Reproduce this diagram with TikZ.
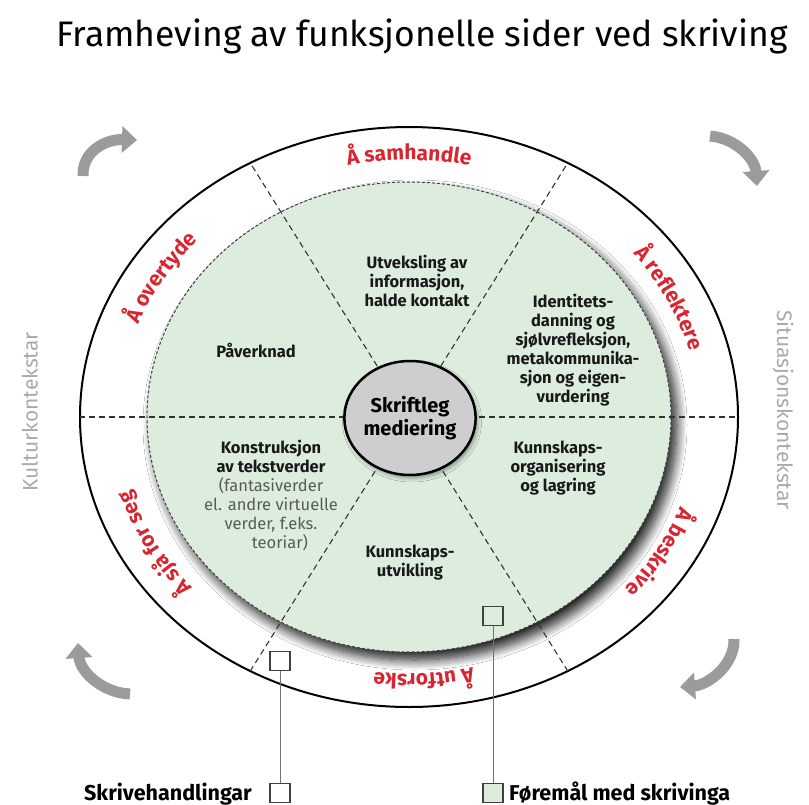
\documentclass[tikz,border=0pt]{standalone}
\usepackage{fontspec}
\setmainfont{Fira Sans}
\usetikzlibrary{arrows.meta,decorations.text,shadows.blur,shapes.geometric}

\definecolor{ringgreen}{RGB}{220,237,222}
\definecolor{hubgrey}{RGB}{206,206,209}
\definecolor{labelred}{RGB}{216,38,48}
\definecolor{cyclegrey}{RGB}{155,155,155}
\definecolor{contextgrey}{RGB}{170,170,170}
\definecolor{notegrey}{RGB}{90,90,90}

\tikzset{
  fnode/.style={align=center, inner sep=0pt,
    font=\fontsize{16.5}{19}\selectfont\bfseries, text=black!90},
  divider/.style={dash pattern=on 6pt off 4pt, line width=1.1pt, black!80},
  cyclearrow/.style={line width=11pt, draw=cyclegrey,
    -{Triangle[width=26pt,length=15pt]}},
  keybox/.style={draw=black!75, line width=1.1pt, minimum width=20pt,
    minimum height=19pt, inner sep=0pt},
  keyline/.style={draw=black!55, line width=0.8pt},
  keytext/.style={inner sep=0pt, font=\fontsize{21.5}{21.5}\selectfont\bfseries},
  ringlabel/.style={decorate, decoration={text along path, text align=center,
    text={|\fontsize{21}{21}\selectfont\bfseries\color{labelred}|#1}}},
  context/.style={inner sep=0pt, font=\fontsize{21}{21}\selectfont, text=contextgrey},
}

\begin{document}
\begin{tikzpicture}[x=1pt,y=-1pt]
  \fill[white] (0,0) rectangle (809,805);
  \useasboundingbox (0,0) rectangle (809,805);
  \coordinate (c) at (409,417);

  % heading
  \node[anchor=base, inner sep=0pt, font=\fontsize{35.5}{35.5}\selectfont] (title)
    at (422,47) {Framheving av funksjonelle sider ved skriving};

  % outer ring and inner field
  \draw[line width=2pt, fill=white] (c) ellipse[x radius=329, y radius=290];
  \fill[ringgreen, blur shadow={shadow xshift=6pt, shadow yshift=-8pt,
      shadow blur radius=10pt, shadow blur steps=14, shadow opacity=90}]
    (c) ellipse[x radius=262, y radius=235];
  \draw[dash pattern=on 3pt off 2pt, line width=1pt, black!75]
    (c) ellipse[x radius=262, y radius=235];

  % sector dividers
  \begin{scope}
    \clip (c) ellipse[x radius=329, y radius=290];
    \draw[divider] (c) ++(-400,0) -- ++(800,0);
    \draw[divider] (c) ++(58:420) -- ++(238:840);
    \draw[divider] (c) ++(122:420) -- ++(302:840);
  \end{scope}

  % hub
  \node[ellipse, minimum width=126pt, minimum height=114pt, fill=hubgrey,
    draw=black, line width=2.5pt, align=center, inner sep=0pt,
    font=\fontsize{20}{23}\selectfont\bfseries,
    blur shadow={shadow xshift=2pt, shadow yshift=-3pt, shadow blur radius=4pt}]
    (hub) at (410,418) {Skriftleg\\mediering};

  % functions in the inner field
  \node[fnode] (exchange) at (417,281) {Utveksling av\\informasjon,\\halde kontakt};
  \node[fnode] (identity) at (573,350)
    {Identitets-\\danning og\\sjølvrefleksjon,\\metakommunika-\\sjon og eigen-\\vurdering};
  \node[fnode] (organise) at (558,468) {Kunnskaps-\\organisering\\og lagring};
  \node[fnode] (influence) at (256,350) {Påverknad};
  \node[fnode] (construct) at (271,496)
    {Konstruksjon\\av tekstverder\\
     {\mdseries\color{notegrey}(fantasiverder}\\
     {\mdseries\color{notegrey}el. andre virtuelle}\\
     {\mdseries\color{notegrey}verder, f.eks.}\\
     {\mdseries\color{notegrey}\hspace*{18pt}teoriar)}};
  \node[fnode] (develop) at (410,563) {Kunnskaps-\\utvikling};

  % writing acts along the ring
  \path[ringlabel={Å samhandle}]  (c) ++(230:290 and 257) arc[start angle=230, end angle=310, x radius=290, y radius=257];
  \path[ringlabel={Å reflektere}] (c) ++(294:290 and 257) arc[start angle=294, end angle=374, x radius=290, y radius=257];
  \path[ringlabel={Å beskrive}]   (c) ++(-10:290 and 257)  arc[start angle=-10, end angle=70, x radius=290, y radius=257];
  \path[ringlabel={Å utforske}]   (c) ++(47:290 and 257)  arc[start angle=47, end angle=127, x radius=290, y radius=257];
  \path[ringlabel={Å sjå for seg}] (c) ++(112:290 and 257) arc[start angle=112, end angle=192, x radius=290, y radius=257];
  \path[ringlabel={Å overtyde}]   (c) ++(171:290 and 257) arc[start angle=171, end angle=251, x radius=290, y radius=257];

  % contexts
  \node[context, rotate=90] (culture) at (30,412) {Kulturkontekstar};
  \node[context, rotate=-90] (situation) at (783,410) {Situasjonskontekstar};

  % cycle arrows
  \draw[cyclearrow] (83,176) .. controls (82,152) and (105,139) .. (137,140);
  \draw[cyclearrow] (710,136) .. controls (735,138) and (755,158) .. (757,186);
  \draw[cyclearrow] (734,639) .. controls (735,665) and (708,685) .. (680,687);
  \draw[cyclearrow] (130,694) .. controls (103,693) and (80,672) .. (78,643);

  % key
  \node[keybox, fill=white] (actmark) at (280,661) {};
  \node[keybox, fill=ringgreen] (aimmark) at (493,616) {};
  \node[keybox, fill=white] (actkey) at (280,793) {};
  \node[keybox, fill=ringgreen] (aimkey) at (493,793) {};
  \draw[keyline] (actmark) -- (actkey);
  \draw[keyline] (aimmark) -- (aimkey);
  \node[keytext, anchor=base east] (acttext) at (252,800) {Skrivehandlingar};
  \node[keytext, anchor=base west] (aimtext) at (509,800) {Føremål med skrivinga};
\end{tikzpicture}
\end{document}
